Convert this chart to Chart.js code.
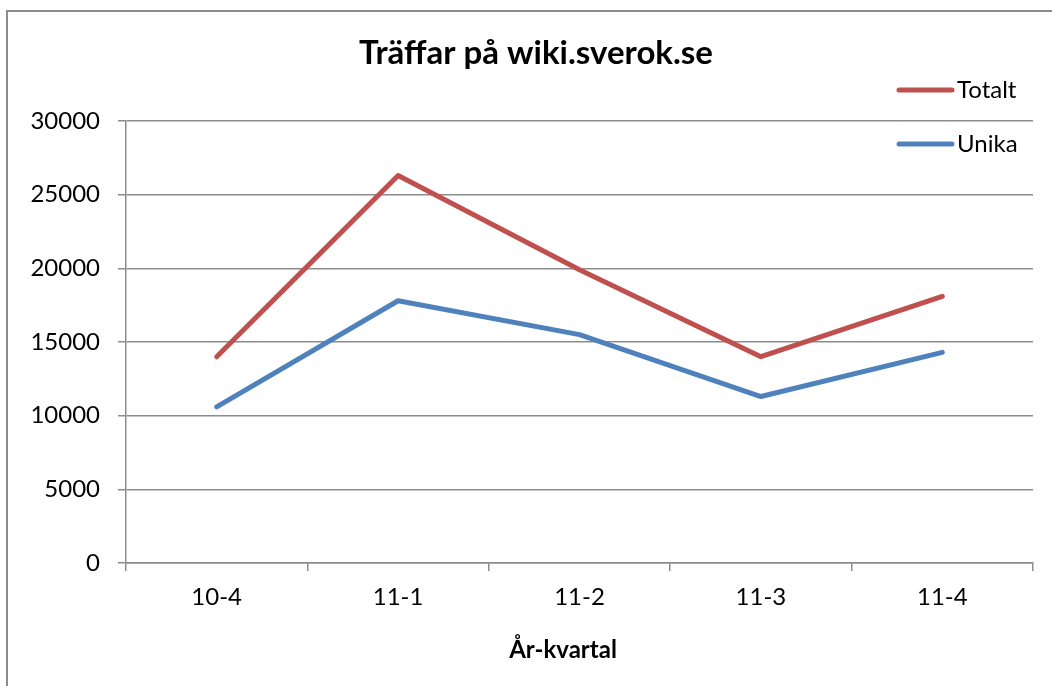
<!DOCTYPE html>
<html>
<head>
<meta charset="utf-8">
<script src="https://cdn.jsdelivr.net/npm/chart.js@4.4.1/dist/chart.umd.min.js"></script>
<style>
  html, body { margin: 0; padding: 0; background: #fff; }
  #wrap { width: 1052px; height: 686px; position: relative; }
</style>
</head>
<body>
<div id="wrap"><canvas id="chart" width="1052" height="686"></canvas></div>
<script>
const categories = ["10-4", "11-1", "11-2", "11-3", "11-4"]
const totalt = [14000, 26300, 19900, 14000, 18100]
const unika = [10600, 17800, 15500, 11300, 14300]
const yTicks = [0, 5000, 10000, 15000, 20000, 25000, 30000]

const chartTitle = "Träffar på wiki.sverok.se"
const xTitle = "År-kvartal"
const gridColor = "#8c8c8c"

// frame, titles and legend drawn on top like the Excel original
const decorPlugin = {
  id: "decor",
  afterDraw(chart) {
    const ctx = chart.ctx
    ctx.save()
    ctx.strokeStyle = "#8c8c8c"
    ctx.lineWidth = 2
    ctx.beginPath()
    ctx.moveTo(7, 686)
    ctx.lineTo(7, 11)
    ctx.lineTo(1052, 11)
    ctx.stroke()

    ctx.fillStyle = "#000"
    ctx.font = "bold 33px Lato"
    ctx.textAlign = "center"
    ctx.textBaseline = "alphabetic"
    ctx.fillText(chartTitle, 536, 64)

    ctx.font = "bold 24px Lato"
    ctx.fillText(xTitle, 563, 658)

    const rows = [90, 144]
    chart.data.datasets.forEach((ds, i) => {
      ctx.strokeStyle = ds.borderColor
      ctx.lineWidth = 5
      ctx.lineCap = "round"
      ctx.beginPath()
      ctx.moveTo(899, rows[i])
      ctx.lineTo(952, rows[i])
      ctx.stroke()
      ctx.fillStyle = "#000"
      ctx.font = "24px Lato"
      ctx.textAlign = "left"
      ctx.textBaseline = "middle"
      ctx.fillText(ds.label, 957, rows[i])
    })
    ctx.restore()
  }
}

new Chart(document.getElementById("chart"), {
  type: "line",
  data: {
    labels: categories,
    datasets: [
      { label: "Totalt", data: totalt, borderColor: "#C0504D", backgroundColor: "#C0504D" },
      { label: "Unika", data: unika, borderColor: "#4F81BD", backgroundColor: "#4F81BD" }
    ]
  },
  options: {
    responsive: false,
    animation: false,
    layout: { padding: { left: 0, right: 19, top: 121, bottom: 0 } },
    elements: {
      line: { borderWidth: 5, tension: 0, borderCapStyle: "round", borderJoinStyle: "round" },
      point: { radius: 0 }
    },
    plugins: {
      legend: { display: false },
      title: { display: false },
      tooltip: { enabled: false }
    },
    scales: {
      x: {
        offset: true,
        afterFit: (s) => { s.height = 123 },
        grid: { drawOnChartArea: false, offset: true, color: gridColor, lineWidth: 1.5, tickLength: 8 },
        border: { color: gridColor, width: 1.5 },
        ticks: { color: "#000", font: { family: "Lato", size: 24 }, padding: 12, maxRotation: 0 }
      },
      y: {
        min: 0,
        max: 30000,
        afterFit: (s) => { s.width = 126 },
        afterBuildTicks: (s) => { s.ticks = yTicks.map(v => ({ value: v })) },
        grid: { color: gridColor, lineWidth: 1.5, tickLength: 8 },
        border: { color: gridColor, width: 1.5 },
        ticks: { color: "#000", font: { family: "Lato", size: 24 }, padding: 18, callback: (v) => String(v) }
      }
    }
  },
  plugins: [decorPlugin]
})
</script>
</body>
</html>
